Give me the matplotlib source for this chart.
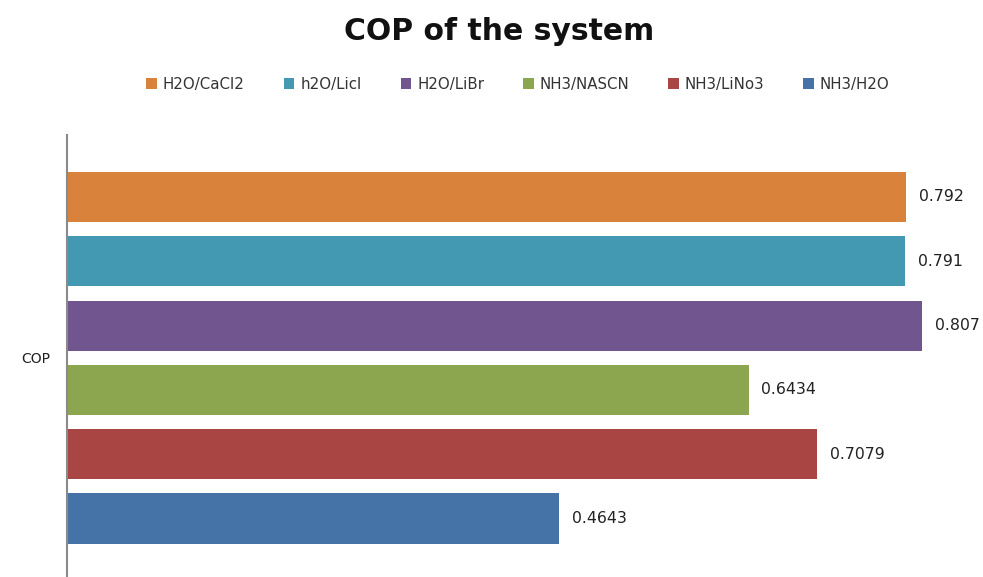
import matplotlib
matplotlib.use("Agg")
import matplotlib.pyplot as plt

# COP of each working pair
series = ["H2O/CaCl2", "h2O/Licl", "H2O/LiBr", "NH3/NASCN", "NH3/LiNo3", "NH3/H2O"]
values = [0.792, 0.791, 0.807, 0.6434, 0.7079, 0.4643]
labels = ["0.792", "0.791", "0.807", "0.6434", "0.7079", "0.4643"]
colors = ["#D9823B", "#4399B1", "#71558F", "#8BA64F", "#A94543", "#4572A7"]
category = "COP"

fig = plt.figure(figsize=(9.83, 5.77), dpi=100)
ax = fig.add_axes([67 / 983, 0.0, 1 - 67 / 983, 1 - 135 / 577])

n = len(series)
for i, (name, v, lab, c) in enumerate(zip(series, values, labels, colors)):
    y = n - 1 - i
    ax.barh(y, v, height=0.78, color=c, label=name)
    ax.text(v + 0.012, y, lab, va="center", ha="left", fontsize=11.3, color="#222222")

ax.set_xlim(0, 0.8646)
ax.set_ylim(-0.91, 5.964)
ax.set_yticks([(n - 1) / 2])
ax.set_yticklabels([category], fontsize=10, color="#222222")
ax.tick_params(axis="y", length=0, pad=12)
ax.set_xticks([])
for s in ["top", "right", "bottom"]:
    ax.spines[s].set_visible(False)
ax.spines["left"].set_color("#8a8a8a")
ax.spines["left"].set_linewidth(1.5)

fig.text(0.508, 0.945, "COP of the system", ha="center", va="center",
         fontsize=21.5, fontweight="bold", color="#111111")

handles, hl = ax.get_legend_handles_labels()
fig.legend(handles, hl, loc="center", bbox_to_anchor=(0.527, 1 - 84 / 577), ncol=6,
           frameon=False, fontsize=10.8, handlelength=0.7, handleheight=0.7,
           handletextpad=0.4, columnspacing=2.6, labelcolor="#333333")

fig.savefig("out.png", dpi=100)
